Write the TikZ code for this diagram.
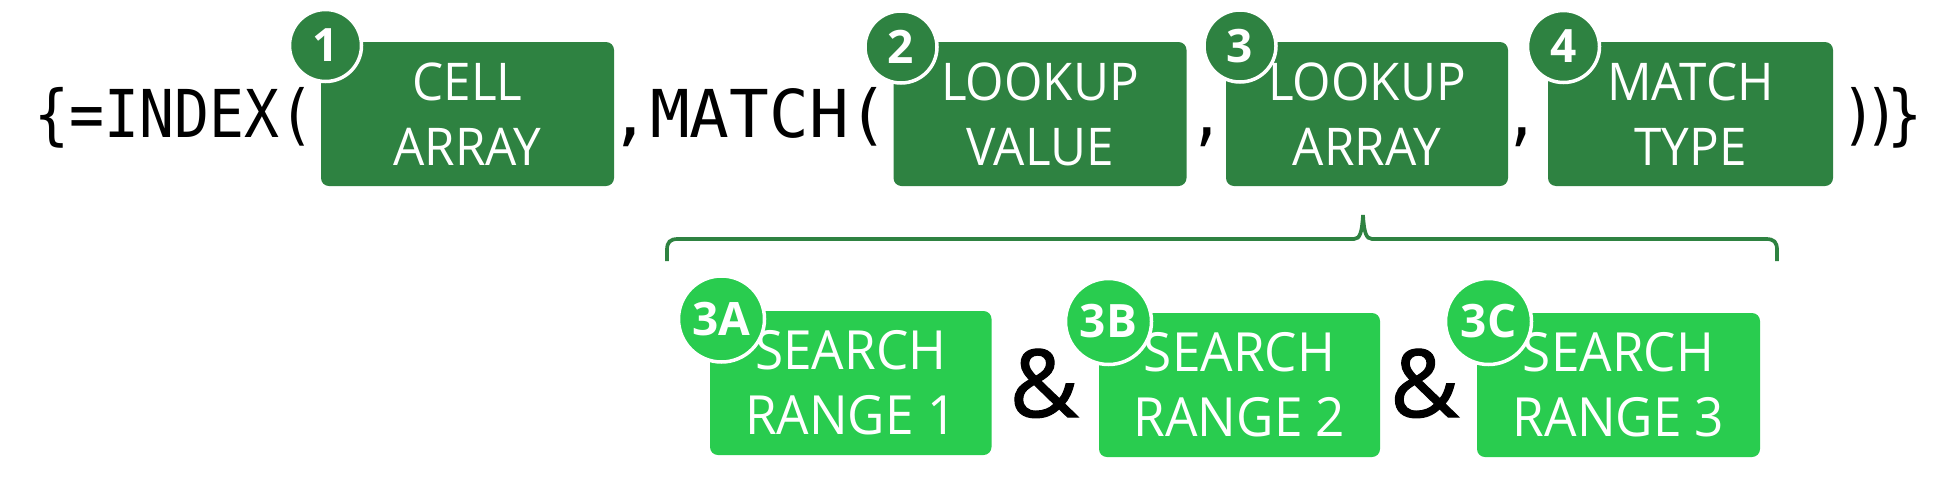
\documentclass[tikz,border=0pt]{standalone}
\usepackage{fontspec}
\setmainfont{Open Sans}
\newfontfamily\boxfont[FakeStretch=0.95]{Open Sans}
\newfontfamily\formfont[FakeStretch=0.88]{DejaVu Sans Mono}
\newfontfamily\formwide[FakeStretch=1.0]{DejaVu Sans Mono}
\newfontfamily\ampfont[FakeBold=1.2]{Open Sans}
\definecolor{dkgreen}{RGB}{46,130,65}
\definecolor{ltgreen}{RGB}{41,204,79}
\begin{document}
\begin{tikzpicture}[x=1pt,y=-1pt,
  argbox/.style={fill=dkgreen, rounded corners=8pt, inner sep=0pt, minimum height=144pt,
    text=white, align=center, font=\boxfont\fontsize{52}{65}\selectfont},
  subbox/.style={argbox, fill=ltgreen, font=\boxfont\fontsize{54}{65}\selectfont},
  numdot/.style={circle, fill=dkgreen, draw=white, line width=3.5pt, inner sep=0pt,
    minimum size=72pt, text=white, font=\bfseries\fontsize{46}{46}\selectfont},
  subdot/.style={numdot, fill=ltgreen, minimum size=86pt},
  formula/.style={anchor=base, inner sep=0pt, text=black, font=\formfont\fontsize{66}{66}\selectfont},
  formulawide/.style={formula, font=\formwide\fontsize{66}{66}\selectfont},
  amp/.style={anchor=base, inner sep=0pt, text=black, font=\ampfont\fontsize{94}{94}\selectfont},
  braceline/.style={draw=dkgreen, line width=3.7pt}]
\useasboundingbox (0,0) rectangle (1956,491);

% top row
\node[formula] (f1) at (174.5,137) {\{=INDEX(};
\node[argbox, minimum width=293pt] (b1) at (467.5,114) {CELL\\ARRAY};
\node[formulawide] (f2) at (749.5,137) {,MATCH(};
\node[argbox, minimum width=293pt] (b2) at (1040,114) {LOOKUP\\VALUE};
\node[formula] (k1) at (1207,137) {,};
\node[argbox, minimum width=282pt] (b3) at (1367,114) {LOOKUP\\ARRAY};
\node[formula] (k2) at (1522,137) {,};
\node[argbox, minimum width=285pt] (b4) at (1690.5,114) {MATCH\\TYPE};
\node[formula] (f3) at (1882,137) {)\kern-12pt)\kern-12pt\}};

\node[numdot] (n1) at (325.5,45.5) {1};
\node[numdot] (n2) at (901,47) {2};
\node[numdot] (n3) at (1240,46) {3};
\node[numdot] (n4) at (1563.5,46.5) {4};

% brace
\coordinate (bl) at (667,261);
\coordinate (br) at (1777,261);
\coordinate (bt) at (1363,215);
\path[braceline] (bl) -- (667,250) .. controls (667,242) and (670,239) .. (678,239)
  -- (1354,239) .. controls (1360,239) and (1362,232) .. (bt)
  .. controls (1364,232) and (1366,239) .. (1372,239)
  -- (1766,239) .. controls (1774,239) and (1777,242) .. (1777,250) -- (br);

% bottom row
\node[subbox, minimum width=281.5pt] (s1) at (850.75,383) {SEARCH\\RANGE 1};
\node[amp] (a1) at (1044,417) {\&};
\node[subbox, minimum width=281pt] (s2) at (1239.5,385) {SEARCH\\RANGE 2};
\node[amp] (a2) at (1424.5,417) {\&};
\node[subbox, minimum width=283pt] (s3) at (1618.5,385) {SEARCH\\RANGE 3};

\node[subdot] (n3a) at (721.5,319) {3A};
\node[subdot] (n3b) at (1108.5,321.5) {3B};
\node[subdot] (n3c) at (1488.5,321.5) {3C};
\end{tikzpicture}
\end{document}
